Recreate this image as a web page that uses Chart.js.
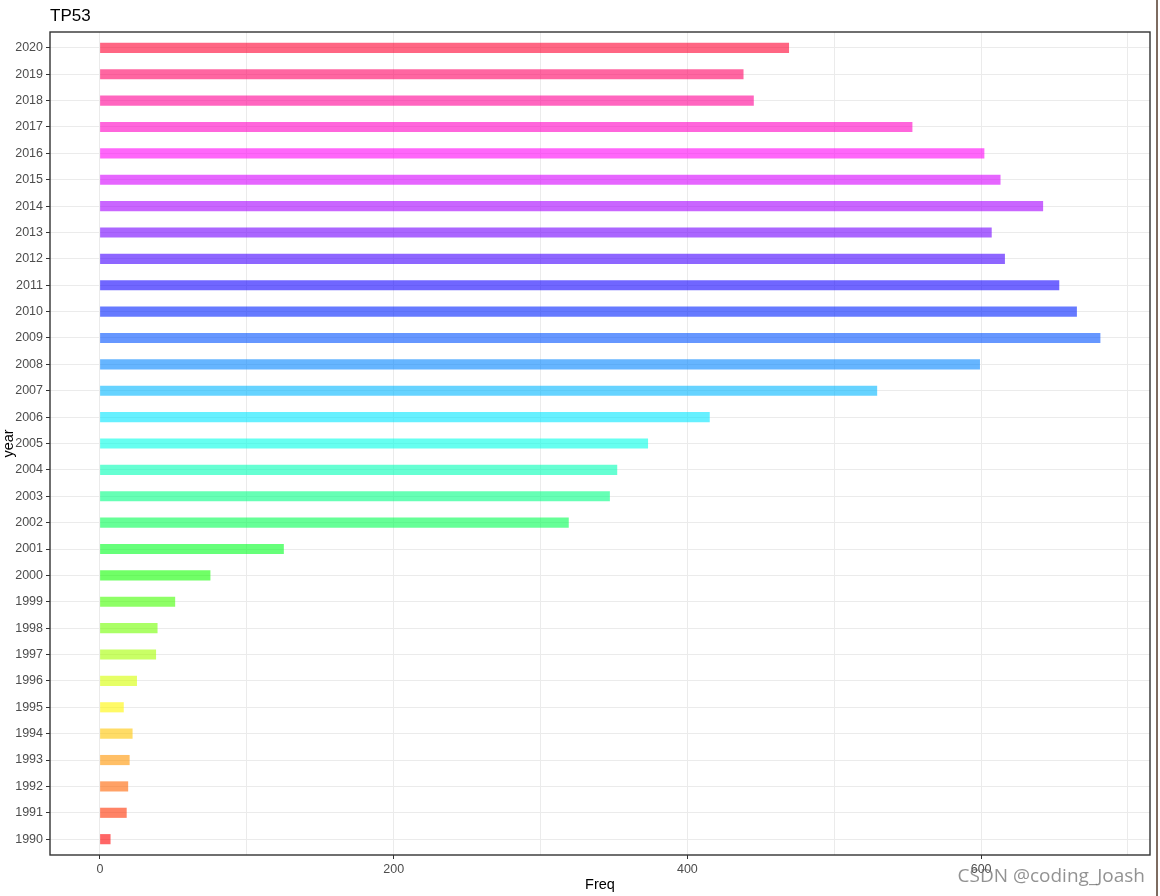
<!DOCTYPE html>
<html>
<head>
<meta charset="utf-8">
<script src="https://cdn.jsdelivr.net/npm/chart.js@4/dist/chart.umd.min.js"></script>
<style>
  html, body { margin: 0; padding: 0; background: #fff; }
  #wrap { width: 1160px; height: 896px; position: relative; }
</style>
</head>
<body>
<div id="wrap"><canvas id="myChart" width="1160" height="896"></canvas></div>
<script>
// values (ggplot style)
const years = [1990, 1991, 1992, 1993, 1994, 1995, 1996, 1997, 1998, 1999,
               2000, 2001, 2002, 2003, 2004, 2005, 2006, 2007, 2008, 2009,
               2010, 2011, 2012, 2013, 2014, 2015, 2016, 2017, 2018, 2019, 2020];
const freq = [7, 18, 19, 20, 22, 16, 25, 38, 39, 51,
              75, 125, 319, 347, 352, 373, 415, 529, 599, 681,
              665, 653, 616, 607, 642, 613, 602, 553, 445, 438, 469];
const xTicks = [0, 200, 400, 600];
const chartTitle = 'TP53';

// rainbow palette like R's rainbow(n), semi transparent
const colors = years.map((y, i) => `hsla(${i / years.length * 360}, 100%, 50%, 0.6)`);

const ctx = document.getElementById('myChart').getContext('2d');

const extras = {
    id: 'extras',
    afterDraw(chart) {
        const c = chart.ctx;
        const a = chart.chartArea;
        c.save();
        // panel border
        c.strokeStyle = '#333333';
        c.lineWidth = 1.4;
        c.strokeRect(a.left, a.top, a.right - a.left, a.bottom - a.top);
        // title
        c.fillStyle = '#000';
        c.font = '17px "Liberation Sans", Arial, sans-serif';
        c.textAlign = 'left';
        c.textBaseline = 'alphabetic';
        c.fillText(chartTitle, a.left, 21);
        // watermark
        c.fillStyle = 'rgba(110,110,110,0.75)';
        c.font = '19px "Open Sans", "Noto Sans", sans-serif';
        c.textAlign = 'right';
        c.fillText('CSDN @coding_Joash', 1145, 882);
        // right page edge
        c.fillStyle = '#7d6b60';
        c.fillRect(1156, 0, 2, 896);
        c.restore();
    }
};

const data = {
    datasets: [{
        label: 'Freq',
        data: years.map((y, i) => ({ x: freq[i], y: y })),
        backgroundColor: colors,
        borderWidth: 0,
        barThickness: 9.5,
    }]
};

const config = {
    type: 'bar',
    data: data,
    options: {
        indexAxis: 'y',
        responsive: false,
        animation: false,
        layout: { padding: { top: 32, right: 10, left: 0, bottom: 0 } },
        plugins: {
            legend: { display: false },
            tooltip: { enabled: false },
        },
        scales: {
            x: {
                type: 'linear',
                min: -34,
                max: 715,
                afterFit: (s) => { s.height = 41; },
                grid: {
                    color: '#ebebeb',
                    lineWidth: 1,
                    tickLength: 4,
                    tickColor: (c) => xTicks.includes(c.tick.value) ? '#333333' : 'rgba(0,0,0,0)',
                },
                border: { display: false },
                ticks: {
                    stepSize: 100,
                    includeBounds: false,
                    maxRotation: 0,
                    padding: 3,
                    color: '#4d4d4d',
                    font: { family: '"Liberation Sans", Arial, sans-serif', size: 12.5 },
                    callback: (v) => xTicks.includes(v) ? String(v) : '',
                },
                title: {
                    display: true,
                    text: 'Freq',
                    color: '#000',
                    padding: { top: 0, bottom: 2 },
                    font: { family: '"Liberation Sans", Arial, sans-serif', size: 14.5 },
                },
            },
            y: {
                type: 'linear',
                min: 1989.4,
                max: 2020.6,
                offset: false,
                afterFit: (s) => { s.width = 50; },
                grid: {
                    offset: false,
                    color: '#ebebeb',
                    lineWidth: 1,
                    tickLength: 4,
                    tickColor: '#333333',
                },
                border: { display: false },
                ticks: {
                    stepSize: 1,
                    includeBounds: false,
                    autoSkip: false,
                    padding: 3,
                    color: '#4d4d4d',
                    font: { family: '"Liberation Sans", Arial, sans-serif', size: 12.5 },
                    callback: (v) => String(v),
                },
                title: {
                    display: true,
                    text: 'year',
                    color: '#000',
                    padding: 0,
                    font: { family: '"Liberation Sans", Arial, sans-serif', size: 14.5 },
                },
            }
        }
    },
    plugins: [extras]
};

const myChart = new Chart(ctx, config);
</script>
</body>
</html>
